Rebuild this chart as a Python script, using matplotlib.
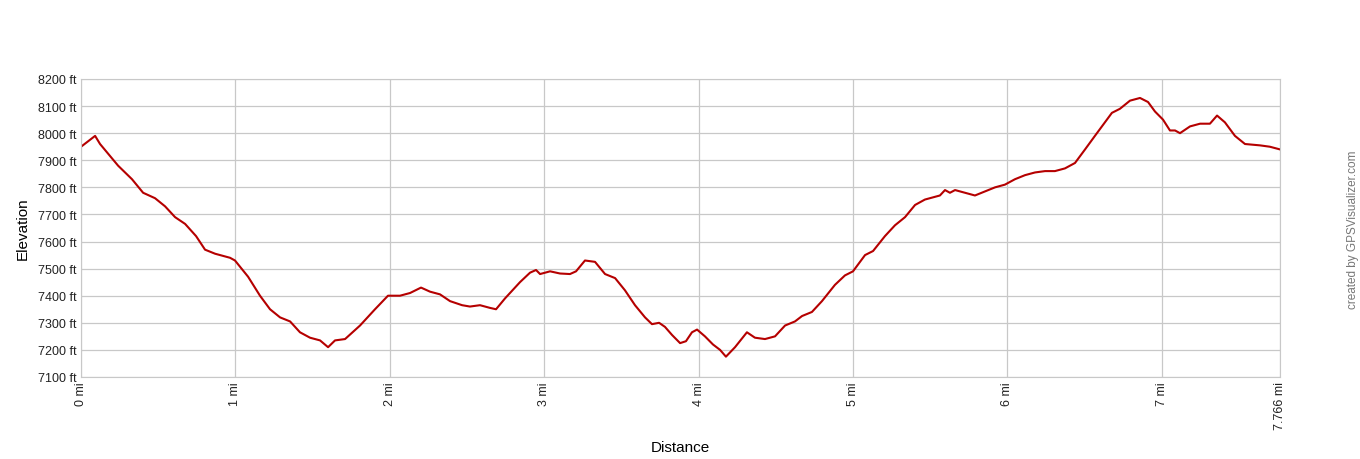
import matplotlib
matplotlib.use("Agg")
import matplotlib.pyplot as plt

# distance along track (mi) and elevation (ft)
dist_mi = [0.000, 0.091, 0.123, 0.240, 0.330, 0.402, 0.479, 0.544, 0.609, 0.674,
           0.745, 0.803, 0.868, 0.965, 0.997, 1.082, 1.159, 1.224, 1.289, 1.354,
           1.418, 1.483, 1.548, 1.600, 1.645, 1.710, 1.807, 1.904, 1.988, 2.066,
           2.131, 2.202, 2.260, 2.325, 2.390, 2.468, 2.519, 2.584, 2.649, 2.688,
           2.746, 2.843, 2.908, 2.947, 2.973, 3.038, 3.102, 3.167, 3.206, 3.264,
           3.329, 3.394, 3.459, 3.523, 3.588, 3.653, 3.698, 3.744, 3.782, 3.828,
           3.880, 3.918, 3.957, 3.990, 4.041, 4.093, 4.139, 4.177, 4.236, 4.313,
           4.365, 4.430, 4.495, 4.560, 4.624, 4.670, 4.734, 4.799, 4.883, 4.948,
           5.000, 5.078, 5.130, 5.207, 5.272, 5.337, 5.402, 5.466, 5.531, 5.563,
           5.596, 5.628, 5.661, 5.725, 5.790, 5.855, 5.920, 5.984, 6.049, 6.114,
           6.179, 6.244, 6.308, 6.373, 6.438, 6.503, 6.567, 6.632, 6.677, 6.729,
           6.794, 6.859, 6.911, 6.956, 7.008, 7.053, 7.086, 7.118, 7.183, 7.248,
           7.312, 7.358, 7.409, 7.474, 7.539, 7.636, 7.700, 7.766]
elev_ft = [7950, 7990, 7960, 7880, 7830, 7780, 7760, 7730, 7690, 7665,
           7620, 7570, 7555, 7540, 7530, 7470, 7400, 7350, 7320, 7305,
           7265, 7245, 7235, 7210, 7235, 7240, 7290, 7350, 7400, 7400,
           7410, 7430, 7415, 7405, 7380, 7365, 7360, 7365, 7355, 7350,
           7390, 7450, 7485, 7495, 7480, 7490, 7482, 7480, 7490, 7530,
           7525, 7480, 7465, 7420, 7365, 7320, 7295, 7300, 7285, 7255,
           7225, 7232, 7265, 7275, 7250, 7220, 7200, 7175, 7210, 7265,
           7245, 7240, 7250, 7290, 7305, 7325, 7340, 7380, 7440, 7475,
           7490, 7550, 7565, 7620, 7660, 7690, 7735, 7755, 7765, 7770,
           7790, 7780, 7790, 7780, 7770, 7785, 7800, 7810, 7830, 7845,
           7855, 7860, 7860, 7870, 7890, 7940, 7990, 8040, 8075, 8090,
           8120, 8130, 8115, 8080, 8050, 8010, 8010, 8000, 8025, 8035,
           8035, 8065, 8040, 7990, 7960, 7955, 7950, 7940]

x_ticks = [0, 1, 2, 3, 4, 5, 6, 7, 7.766]
x_labels = ["0 mi", "1 mi", "2 mi", "3 mi", "4 mi", "5 mi", "6 mi", "7 mi", "7.766 mi"]
y_ticks = list(range(7100, 8201, 100))

plt.rcParams["font.family"] = ["Liberation Sans", "DejaVu Sans"]

fig = plt.figure(figsize=(13.6, 4.6), dpi=100)
ax = fig.add_axes([0.0596, 0.1783, 0.8816, 0.6478])

ax.plot(dist_mi, elev_ft, color="#b50000", lw=1.5)

ax.set_xlim(0, 7.766)
ax.set_ylim(7100, 8200)
ax.set_xticks(x_ticks)
ax.set_xticklabels(x_labels, rotation=90, fontsize=9)
ax.set_yticks(y_ticks)
ax.set_yticklabels([f"{v} ft" for v in y_ticks], fontsize=9)
ax.tick_params(length=0, pad=3, colors="#222222")
ax.grid(True, color="#c8c8c8", lw=0.9)
for s in ax.spines.values():
    s.set_color("#c8c8c8")

ax.set_xlabel("Distance", fontsize=11, labelpad=8)
ax.set_ylabel("Elevation", fontsize=11, labelpad=6)

fig.text(0.9945, 0.50, "created by GPSVisualizer.com", rotation=90,
         ha="center", va="center", fontsize=8.5, color="#777777")

fig.savefig("out.png", dpi=100)
